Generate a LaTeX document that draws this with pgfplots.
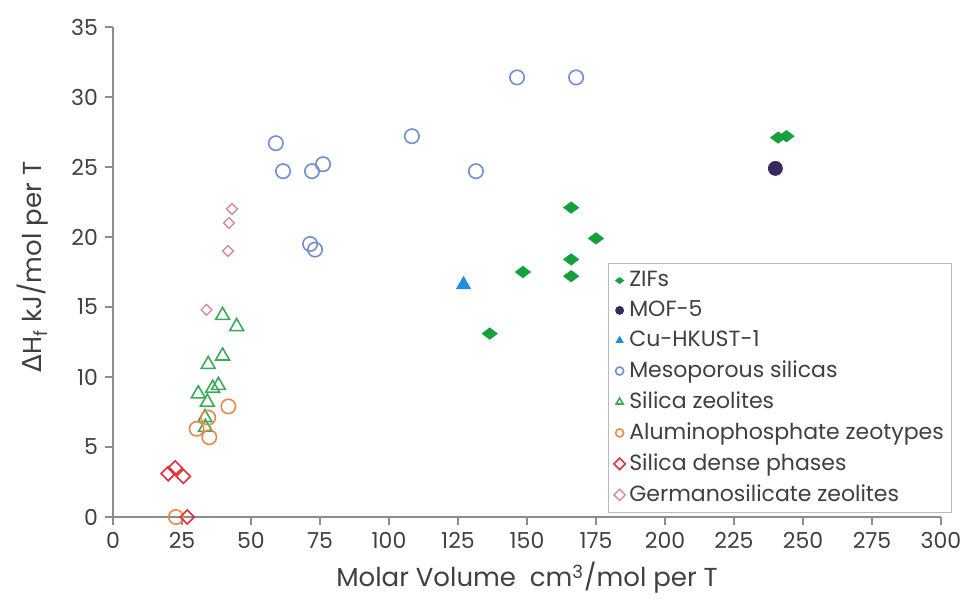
\documentclass[border=0pt]{standalone}
\usepackage{fontspec}
\setmainfont{Poppins}
\newfontfamily\dejavu{DejaVu Sans}
\usepackage{pgfplots}
\pgfplotsset{compat=1.18}
\definecolor{zif}{HTML}{16A03C}
\definecolor{mof}{HTML}{35295E}
\definecolor{cuh}{HTML}{1F8EE0}
\definecolor{meso}{HTML}{6F8FD0}
\definecolor{silz}{HTML}{3AAA5A}
\definecolor{alpo}{HTML}{E8894A}
\definecolor{sild}{HTML}{E0303A}
\definecolor{germ}{HTML}{D48C9E}
\definecolor{axgray}{HTML}{8C8C8C}
\definecolor{txt}{HTML}{404040}
\begin{document}
\begin{tikzpicture}
\path[use as bounding box] (-56.5pt,-45pt) rectangle (430.5pt,258.5pt);
\begin{axis}[
  at={(0,0)}, anchor=south west,
  scale only axis, width=414pt, height=245pt,
  xmin=0, xmax=300, ymin=0, ymax=35,
  xtick={0,25,...,300}, ytick={0,5,...,35},
  axis lines*=left, axis line style={axgray, line width=0.9pt, -},
  tick style={axgray, line width=0.8pt}, tick align=outside,
  major tick length=4pt,
  /pgf/number format/assume math mode=true,
  ticklabel style={font=\fontsize{11}{12}\selectfont, text=txt},
  xlabel={Molar Volume\ \ cm\textsuperscript{3}/mol per T},
  ylabel={{\dejavu Δ}H\textsubscript{f} kJ/mol per T},
  label style={font=\fontsize{13}{14}\selectfont, text=txt},
  xlabel style={at={(axis description cs:0.5,-0.1245)}, anchor=center},
  ylabel style={at={(axis description cs:-0.0966,0.51)}, anchor=center, font=\fontsize{13}{14}\selectfont},
  clip=false,
  legend style={at={(247.5pt,127pt)}, anchor=north west, draw=axgray!60,
    font=\fontsize{11}{12}\selectfont, text=txt, inner xsep=2pt, inner ysep=2pt,
    row sep=1.6pt, cells={anchor=west}},
  legend image code/.code={\draw[#1, mark size=2pt] plot coordinates {(0.12cm,0cm)}; \path (0cm,0cm) (0.2cm,0cm);},
]
\addplot[only marks, mark=diamond*, mark size=3.75pt, mark options={rotate=90, fill=zif, draw=zif}, color=zif]
 coordinates {(241,27.1) (244,27.2) (166,22.1) (175,19.9) (166,18.4) (166,17.2) (148.5,17.5) (136.5,13.1)};
\addlegendentry{ZIFs}
\addplot[only marks, mark=*, mark size=3.5pt, color=mof, mark options={fill=mof}]
 coordinates {(240,24.9)};
\addlegendentry{MOF-5}
\addplot[only marks, mark=triangle*, mark size=4pt, color=cuh, mark options={fill=cuh}]
 coordinates {(127,16.6)};
\addlegendentry{Cu-HKUST-1}
\addplot[only marks, mark=o, mark size=3.6pt, color=meso, mark options={line width=0.8pt}]
 coordinates {(146.4,31.4) (167.8,31.4) (59,26.7) (108.3,27.2) (61.6,24.7) (72.1,24.7) (76.1,25.2) (131.5,24.7) (71.4,19.5) (73.2,19.1)};
\addlegendentry{Mesoporous silicas}
\addplot[only marks, mark=triangle, mark size=4pt, color=silz, mark options={line width=0.8pt}]
 coordinates {(39.7,14.4) (44.8,13.6) (39.7,11.5) (34.5,10.9) (38.2,9.4) (36.1,9.2) (30.9,8.8) (34.2,8.2) (33.3,7.1) (33.5,6.4)};
\addlegendentry{Silica zeolites}
\addplot[only marks, mark=o, mark size=3.6pt, color=alpo, mark options={line width=0.8pt}]
 coordinates {(41.8,7.9) (34.5,7.1) (30.3,6.3) (34.9,5.7) (22.8,0)};
\addlegendentry{Aluminophosphate zeotypes}
\addplot[only marks, mark=square, mark size=2.5pt, color=sild, mark options={rotate=45, line width=0.8pt}]
 coordinates {(22.5,3.5) (20.0,3.1) (25.5,2.9) (26.9,0)};
\addlegendentry{Silica dense phases}
\addplot[only marks, mark=square, mark size=1.9pt, color=germ, mark options={rotate=45, line width=0.7pt}]
 coordinates {(33.9,14.8) (43.1,22.0) (42.0,21.0) (41.7,19.0)};
\addlegendentry{Germanosilicate zeolites}
\end{axis}
\end{tikzpicture}
\end{document}
